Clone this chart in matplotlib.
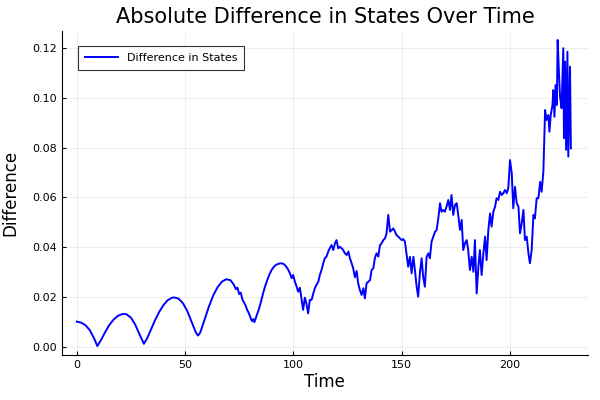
import matplotlib.pyplot as plt

time = [0, 2, 4, 6, 8, 9.5, 11, 13, 15, 17, 19, 21, 22, 23, 25, 27, 29, 31,
        32.5, 34, 36, 38, 40, 42, 44, 45, 47, 49, 51, 53, 55, 56, 57, 59, 61,
        63, 65, 67, 69, 71,
        72.5, 73.5, 74.2, 75, 75.7, 76.5, 77.3, 78, 78.7, 79.5, 80.2, 80.9,
        81.5, 82, 83, 84, 85, 86, 87, 88, 89, 90, 91, 92, 93.5, 94.5, 95.5,
        96.5, 97.5, 98.4, 99.2, 99.9, 100.7, 101.5, 102.2, 103, 103.8, 104.5,
        105.3, 106, 106.8, 107.6, 108.4, 109.2, 109.9, 110.7, 111.5, 112.2,
        113, 113.8, 114.5, 115.3, 116.1, 116.8, 117.6, 118.4, 119.2, 119.9,
        120.7, 121.5, 122.3, 123, 123.8, 124.6, 125.4, 126.1, 126.9, 127.6,
        128.4, 129.2, 129.9, 130.7, 131.5, 132.3, 133, 133.8, 134.6, 135.4,
        136.1, 136.9, 137.6, 138.4, 139.2, 140, 140.7, 141.5, 142.3, 143,
        143.8, 144.6, 145.4, 146.1, 146.9, 147.6, 148.4, 149.2, 150, 150.7,
        151.5, 152.3, 153, 153.8, 154.6, 155.4, 156.1, 156.9, 157.6, 158.4,
        159.2, 159.9, 160.7, 161.5, 162.3, 163, 163.8, 164.6, 165.4, 166.1,
        166.9, 167.7, 168.4, 169.2, 169.9, 170.7, 171.5, 172.3, 173, 173.8,
        174.6, 175.4, 176.1, 176.9, 177.7, 178.4, 179.2, 180, 180.7, 181.5,
        182.3, 183.1, 183.8, 184.6, 185.4, 186.1, 186.9, 187.7, 188.5, 189.2,
        190, 190.8, 191.5, 192.3, 193.1, 193.8, 194.6, 195.4, 196.2, 196.9,
        197.7, 198.5, 199.2, 200, 200.8, 201.5, 202.3, 203.1, 203.9, 204.6,
        205.4, 206.2, 206.9, 207.7, 208.5, 209.2, 210, 210.8, 211.5, 212.3,
        213.1, 213.9, 214.6, 215.4, 216.2, 216.9, 217.7, 218.2, 218.8, 219.6,
        220, 220.5, 221.1, 221.6, 222, 222.6, 223.1, 223.8, 224.6, 224.9,
        225.4, 225.9, 226.5, 226.9, 227.7, 228.1]

diff = [0.0102, 0.0098, 0.0088, 0.0068, 0.0035, 0.0004, 0.0025, 0.0058,
        0.0088, 0.0110, 0.0125, 0.0132, 0.0133, 0.0131, 0.0118, 0.0090,
        0.0050, 0.0013, 0.0035, 0.0065, 0.0105, 0.0140, 0.0168, 0.0188,
        0.0198, 0.0199, 0.0194, 0.0176, 0.0145, 0.0102, 0.0058, 0.0046,
        0.0058, 0.0110, 0.0162, 0.0207, 0.0240, 0.0262, 0.0272, 0.0268,
        0.0250, 0.0232, 0.0238, 0.0212, 0.0218, 0.0190, 0.0178, 0.0165,
        0.0148, 0.0135, 0.0118, 0.0104, 0.0112, 0.0100, 0.0125, 0.0150,
        0.0180, 0.0215, 0.0245, 0.0270, 0.0292, 0.0310, 0.0322, 0.0330,
        0.0335, 0.0336, 0.0333, 0.0325, 0.0312, 0.0296, 0.0276, 0.0289,
        0.0262, 0.0242, 0.0222, 0.0238, 0.0189, 0.0149, 0.0198, 0.0176,
        0.0135, 0.0189, 0.0189, 0.0215, 0.0236, 0.0250, 0.0262, 0.0289,
        0.0309, 0.0336, 0.0356, 0.0363, 0.0383, 0.0396, 0.0409, 0.0389,
        0.0416, 0.0429, 0.0396, 0.0402, 0.0396, 0.0389, 0.0376, 0.0369,
        0.0383, 0.0356, 0.0336, 0.0316, 0.0280, 0.0305, 0.0256, 0.0229,
        0.0209, 0.0236, 0.0195, 0.0256, 0.0262, 0.0269, 0.0309, 0.0316,
        0.0356, 0.0376, 0.0363, 0.0409, 0.0416, 0.0429, 0.0436, 0.0456,
        0.0530, 0.0463, 0.0469, 0.0476, 0.0463, 0.0449, 0.0443, 0.0436,
        0.0429, 0.0433, 0.0423, 0.0369, 0.0322, 0.0362, 0.0296, 0.0362,
        0.0309, 0.0242, 0.0202, 0.0296, 0.0356, 0.0282, 0.0242, 0.0362,
        0.0376, 0.0356, 0.0423, 0.0443, 0.0463, 0.0469, 0.0516, 0.0577,
        0.0543, 0.0550, 0.0543, 0.0563, 0.0590, 0.0550, 0.0610, 0.0530,
        0.0570, 0.0577, 0.0530, 0.0470, 0.0510, 0.0389, 0.0416, 0.0429,
        0.0389, 0.0309, 0.0362, 0.0302, 0.0429, 0.0215, 0.0322, 0.0389,
        0.0289, 0.0376, 0.0443, 0.0349, 0.0470, 0.0536, 0.0483, 0.0543,
        0.0563, 0.0597, 0.0590, 0.0623, 0.0610, 0.0617, 0.0630, 0.0617,
        0.0637, 0.0750, 0.0697, 0.0557, 0.0643, 0.0577, 0.0563, 0.0456,
        0.0496, 0.0550, 0.0429, 0.0443, 0.0376, 0.0336, 0.0389, 0.0530,
        0.0516, 0.0597, 0.0597, 0.0663, 0.0623, 0.0704, 0.0951, 0.0911,
        0.0931, 0.0864, 0.0931, 0.0971, 0.1031, 0.0924, 0.1051, 0.0971,
        0.1232, 0.1097, 0.1004, 0.0958, 0.1199, 0.0838, 0.1145, 0.0791,
        0.1185, 0.0764, 0.1125, 0.0797]

x_ticks = [0, 50, 100, 150, 200]
y_ticks = [0.00, 0.02, 0.04, 0.06, 0.08, 0.10, 0.12]

fig = plt.figure(figsize=(6, 4), dpi=100)
ax = fig.add_axes([0.103, 0.1125, 0.877, 0.81])

ax.plot(time, diff, color='blue', lw=1.4, label='Difference in States')

ax.set_xlim(-6.9, 236)
ax.set_ylim(-0.0032, 0.1268)
ax.set_xticks(x_ticks)
ax.set_yticks(y_ticks)
ax.set_yticklabels([f'{v:.2f}' for v in y_ticks])
ax.tick_params(direction='in', length=3, labelsize=8, width=0.8)
ax.grid(True, color='black', alpha=0.08, lw=0.6)

for side in ['top', 'right']:
    ax.spines[side].set_visible(False)

ax.set_title('Absolute Difference in States Over Time', fontsize=15)
ax.set_xlabel('Time', fontsize=12, labelpad=2)
ax.set_ylabel('Difference', fontsize=12, labelpad=9)

leg = ax.legend(loc='upper left', fontsize=8, fancybox=False,
                handlelength=3.0, borderpad=0.6,
                bbox_to_anchor=(0.02, 0.97))
leg.get_frame().set_edgecolor('black')
leg.get_frame().set_linewidth(0.8)

fig.savefig('out.png')
